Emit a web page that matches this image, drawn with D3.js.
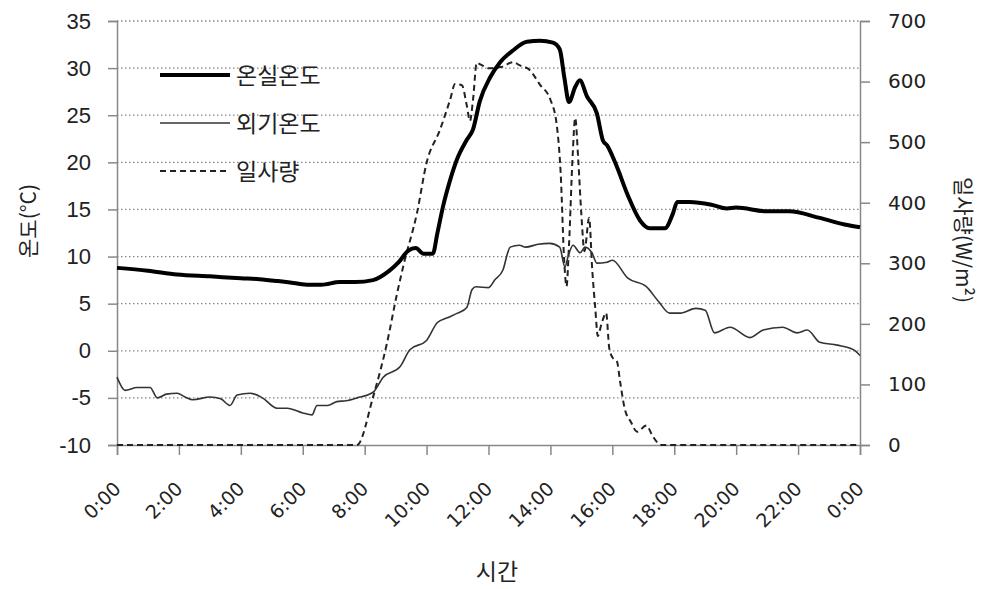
<!DOCTYPE html>
<html>
<head>
<meta charset="utf-8">
<script src="https://cdn.jsdelivr.net/npm/d3@7"></script>
<style>
  body { margin: 0; background: #fff; }
  .tickText { font-family: 'DejaVu Sans', sans-serif; fill: #222; }
  .numText { font-family: 'Liberation Sans', Arial, sans-serif; fill: #222; }
  .krText { font-family: 'Noto Sans CJK KR', sans-serif; fill: #222; }
</style>
</head>
<body>
<div class="chart"></div>
<script>
// hour of day for each reading, and the readings
var greenhouseHours = [0, 1, 1.94, 3, 4, 4.6, 5.2, 5.7, 6.2, 6.6, 7.2, 7.7, 8.27, 8.8, 9.1, 9.4, 9.65, 9.9, 10.2, 10.35, 10.53, 10.75, 10.98, 11.3, 11.5, 11.72, 12.05, 12.37, 12.8, 13.24, 13.66, 14.08, 14.3, 14.45, 14.6, 14.8, 14.95, 15.18, 15.5, 15.7, 15.83, 16.15, 16.5, 16.9, 17.2, 17.7, 17.95, 18.1, 18.5, 19.2, 19.7, 20, 21, 21.7, 22.7, 23.5, 24];
var greenhouseTemp = [8.8, 8.5, 8.1, 7.9, 7.7, 7.6, 7.4, 7.2, 7.0, 7.0, 7.3, 7.3, 7.5, 8.5, 9.4, 10.6, 10.9, 10.3, 10.3, 12.5, 15.3, 18.0, 20.3, 22.4, 23.5, 26.5, 29.0, 30.6, 31.9, 32.8, 32.9, 32.7, 32.0, 29.0, 26.4, 28.0, 28.7, 27.0, 25.2, 22.3, 21.8, 19.5, 16.5, 13.8, 13.0, 13.0, 14.5, 15.8, 15.8, 15.5, 15.1, 15.2, 14.8, 14.8, 14.1, 13.4, 13.1];

var outsideHours = [0, 0.26, 0.65, 1.07, 1.3, 1.6, 1.94, 2.2, 2.45, 3, 3.35, 3.65, 3.88, 4.3, 4.7, 5.17, 5.5, 6, 6.3, 6.46, 6.8, 7.1, 7.4, 7.75, 8.27, 8.6, 9.14, 9.46, 10, 10.35, 10.67, 11, 11.3, 11.47, 11.6, 12, 12.2, 12.47, 12.62, 12.7, 13, 13.2, 13.6, 13.98, 14.3, 14.47, 14.57, 14.73, 14.96, 15.12, 15.34, 15.5, 15.83, 16, 16.5, 17.1, 17.5, 17.85, 18.2, 18.7, 19, 19.3, 19.8, 20.45, 20.87, 21.5, 21.97, 22.3, 22.7, 23.26, 23.8, 24];
var outsideTemp = [-2.8, -4.2, -3.9, -3.9, -5.0, -4.6, -4.5, -4.9, -5.2, -4.9, -5.1, -5.8, -4.7, -4.5, -5.0, -6.1, -6.1, -6.6, -6.8, -5.8, -5.8, -5.4, -5.3, -5.0, -4.4, -2.8, -1.7, 0.1, 1.1, 3.0, 3.5, 4.0, 4.6, 6.5, 6.8, 6.7, 7.5, 8.6, 10.4, 11.0, 11.2, 11.0, 11.3, 11.4, 11.0, 8.9, 10.0, 11.2, 10.4, 11.0, 10.4, 9.3, 9.4, 9.6, 7.7, 6.8, 5.2, 4.0, 4.0, 4.5, 4.3, 1.9, 2.5, 1.4, 2.2, 2.5, 1.9, 2.2, 0.9, 0.6, 0.1, -0.5];

var solarHours = [0, 7.75, 8.27, 8.72, 9.05, 9.27, 9.69, 10, 10.43, 10.76, 10.92, 11.14, 11.3, 11.4, 11.5, 11.62, 11.75, 12, 12.4, 12.8, 13, 13.33, 13.66, 14, 14.2, 14.33, 14.45, 14.52, 14.6, 14.72, 14.8, 14.9, 15, 15.1, 15.25, 15.35, 15.45, 15.53, 15.65, 15.8, 15.9, 16, 16.15, 16.25, 16.4, 16.6, 16.8, 17.1, 17.3, 17.5, 17.6, 24];
var solarRad = [0, 0, 79, 168, 251, 300, 383, 466, 520, 570, 596, 594, 560, 535, 570, 631, 628, 622, 624, 632, 627, 619, 595, 570, 530, 450, 300, 262, 330, 480, 540, 470, 380, 320, 375, 290, 225, 180, 200, 218, 160, 145, 138, 105, 60, 38, 22, 32, 15, 2, 0, 0];

var timeTicks = [0, 2, 4, 6, 8, 10, 12, 14, 16, 18, 20, 22, 24];
var timeLabels = ['0:00', '2:00', '4:00', '6:00', '8:00', '10:00', '12:00', '14:00', '16:00', '18:00', '20:00', '22:00', '0:00'];
var tempTicks = [-10, -5, 0, 5, 10, 15, 20, 25, 30, 35];
var radTicks = [0, 100, 200, 300, 400, 500, 600, 700];
var seriesNames = ['온실온도', '외기온도', '일사량'];

var svgWidth = 984;
var svgHeight = 589;
var margin = {top: 21, right: 124, bottom: 144, left: 117};
var width = svgWidth - margin.left - margin.right;
var height = svgHeight - margin.top - margin.bottom;

var svg = d3
  .select('.chart')
  .append('svg')
  .attr('width', svgWidth)
  .attr('height', svgHeight);

var chart = svg.append('g')
  .attr('transform', 'translate(' + margin.left + ',' + margin.top + ')');

var xScale = d3.scaleLinear().domain([0, 24]).range([0, width]);
var yTemp = d3.scaleLinear().domain([-10, 35]).range([height, 0]);
var yRad = d3.scaleLinear().domain([0, 700]).range([height, 0]);

// dotted grid
chart.append('g')
  .selectAll('line')
  .data(tempTicks.filter(function(d) { return d > -10; }))
  .enter()
  .append('line')
  .attr('x1', 0)
  .attr('x2', width)
  .attr('y1', function(d) { return yTemp(d); })
  .attr('y2', function(d) { return yTemp(d); })
  .attr('stroke', '#888')
  .attr('stroke-width', 1.3)
  .attr('stroke-dasharray', '1.5,2.5');

// axes (plain hyphen for negatives, like the original)
var plain = function(d) { return String(d); };
var leftAxis = d3.axisLeft(yTemp).tickValues(tempTicks).tickSize(9).tickFormat(plain);
var rightAxis = d3.axisRight(yRad).tickValues(radTicks).tickSize(10).tickFormat(plain);
var bottomAxis = d3.axisBottom(xScale).tickValues(timeTicks).tickSize(10).tickFormat('');

var gl = chart.append('g').call(leftAxis);
gl.selectAll('text').attr('x', -26).attr('class', 'numText').style('font-size', '22px').attr('font-family', null);

var gr = chart.append('g').attr('transform', 'translate(' + width + ',0)').call(rightAxis);
gr.selectAll('text').attr('x', 28).attr('class', 'tickText').style('font-size', '20px').attr('font-family', null);

var gb = chart.append('g').attr('transform', 'translate(0,' + height + ')').call(bottomAxis);

[gl, gr, gb].forEach(function(g) {
  g.select('.domain').attr('stroke', '#888').attr('stroke-width', 1.5);
  g.selectAll('.tick line').attr('stroke', '#888').attr('stroke-width', 1.5);
});

// rotated time labels
chart.append('g')
  .selectAll('text')
  .data(timeTicks)
  .enter()
  .append('text')
  .attr('class', 'tickText')
  .attr('text-anchor', 'end')
  .style('font-size', '19px')
  .attr('transform', function(d) {
    return 'translate(' + (xScale(d) + 5) + ',' + (height + 45) + ') rotate(-45)';
  })
  .text(function(d, i) { return timeLabels[i]; });

// series lines
function lineFor(hours, yScale) {
  return d3.line()
    .x(function(d, i) { return xScale(hours[i]); })
    .y(function(d) { return yScale(d); })
    .curve(d3.curveMonotoneX);
}

chart.append('path')
  .datum(solarRad)
  .attr('d', lineFor(solarHours, yRad))
  .attr('fill', 'none')
  .attr('stroke', '#222')
  .attr('stroke-width', 2)
  .attr('stroke-dasharray', '6,4');

chart.append('path')
  .datum(outsideTemp)
  .attr('d', lineFor(outsideHours, yTemp))
  .attr('fill', 'none')
  .attr('stroke', '#333')
  .attr('stroke-width', 1.6);

chart.append('path')
  .datum(greenhouseTemp)
  .attr('d', lineFor(greenhouseHours, yTemp))
  .attr('fill', 'none')
  .attr('stroke', '#000')
  .attr('stroke-width', 4);

// legend
var legendStyles = [
  {w: 4, dash: null, color: '#000'},
  {w: 1.6, dash: null, color: '#333'},
  {w: 2, dash: '6,4', color: '#222'}
];
var legend = svg.append('g').attr('transform', 'translate(160,75)');
seriesNames.forEach(function(name, i) {
  var row = legend.append('g').attr('transform', 'translate(0,' + (i * 48) + ')');
  row.append('line')
    .attr('x1', 0).attr('x2', 70)
    .attr('stroke', legendStyles[i].color)
    .attr('stroke-width', legendStyles[i].w)
    .attr('stroke-dasharray', legendStyles[i].dash);
  row.append('text')
    .attr('class', 'krText')
    .attr('x', 76)
    .attr('y', 9)
    .style('font-size', '23px')
    .text(name);
});

// axis titles
svg.append('text')
  .attr('class', 'krText')
  .attr('text-anchor', 'middle')
  .attr('x', 497)
  .attr('y', 580)
  .style('font-size', '23px')
  .text('시간');

svg.append('text')
  .attr('class', 'krText')
  .attr('text-anchor', 'middle')
  .attr('transform', 'translate(36,221) rotate(-90)')
  .style('font-size', '21px')
  .text('온도(°C)');

svg.append('text')
  .attr('class', 'krText')
  .attr('text-anchor', 'middle')
  .attr('transform', 'translate(956,240) rotate(90)')
  .style('font-size', '21px')
  .text('일사량(W/m²)');
</script>
</body>
</html>
